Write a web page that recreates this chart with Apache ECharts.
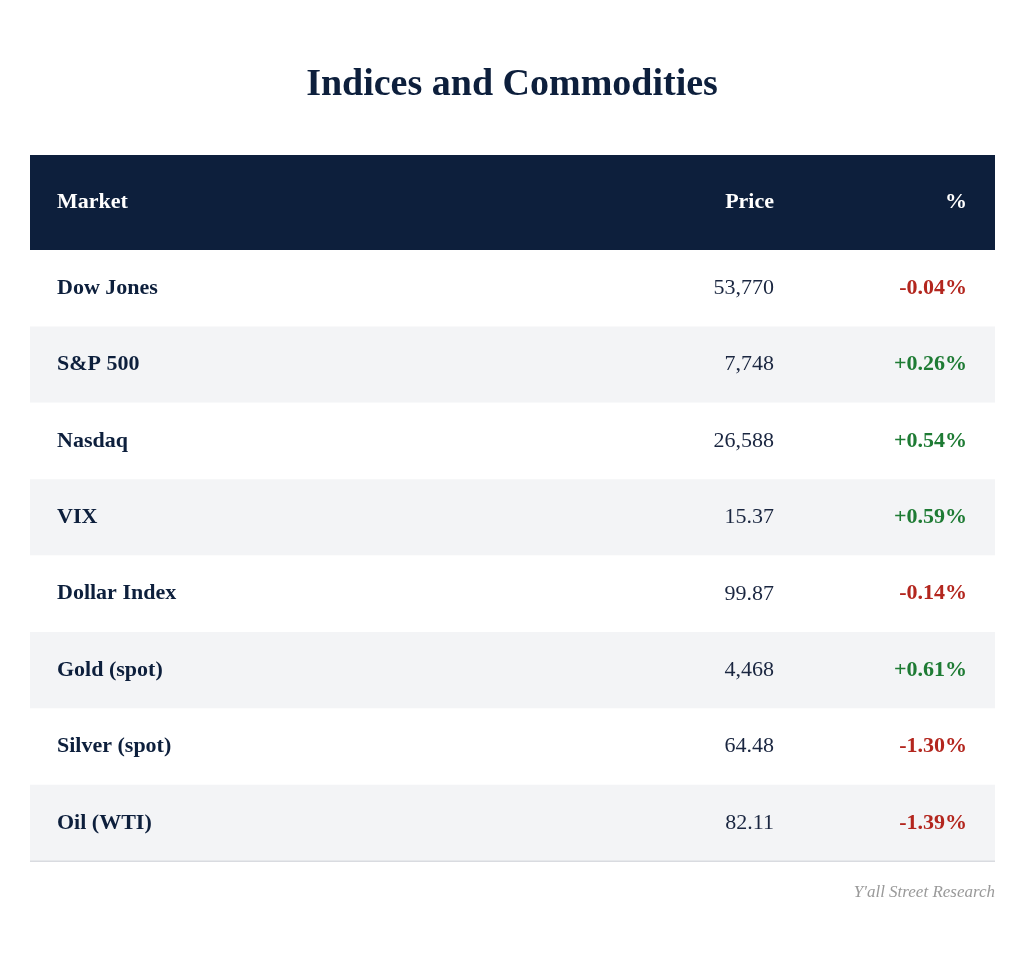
<!DOCTYPE html>
<html><head><meta charset="utf-8">
<script src="https://cdn.jsdelivr.net/npm/echarts@6/dist/echarts.min.js"></script>
<style>html,body{margin:0;padding:0;background:#fff}#c{width:1024px;height:957px}</style>
</head><body><div id="c"></div>
<script>
const headers = ["Market", "Price", "%"];
const markets = ["Dow Jones","S&P 500","Nasdaq","VIX","Dollar Index","Gold (spot)","Silver (spot)","Oil (WTI)"];
const prices = ["53,770","7,748","26,588","15.37","99.87","4,468","64.48","82.11"];
const changes = ["-0.04%","+0.26%","+0.54%","+0.59%","-0.14%","+0.61%","-1.30%","-1.39%"];

const chart = echarts.init(document.getElementById('c'));
const font = "'Liberation Serif','DejaVu Serif',serif";
const navy = '#0d1f3c';
const L = 30, R = 995, headTop = 155, headH = 95, rowH = 76.4;
const els = [];
els.push({type:'text', left:'center', top:66, style:{text:'Indices and Commodities', font:`bold 38px ${font}`, fill:navy}});
els.push({type:'rect', shape:{x:L,y:headTop,width:R-L,height:headH}, style:{fill:navy}});
const hy = headTop + headH/2;
els.push({type:'text', x:57, y:hy, style:{text:headers[0], font:`bold 22px ${font}`, fill:'#fff', textVerticalAlign:'middle'}});
els.push({type:'text', x:774, y:hy, style:{text:headers[1], font:`bold 22px ${font}`, fill:'#fff', textAlign:'right', textVerticalAlign:'middle'}});
els.push({type:'text', x:967, y:hy, style:{text:headers[2], font:`bold 22px ${font}`, fill:'#fff', textAlign:'right', textVerticalAlign:'middle'}});
markets.forEach((m,i)=>{
  const y0 = headTop + headH + i*rowH;
  els.push({type:'rect', shape:{x:L,y:y0,width:R-L,height:rowH}, style:{fill: i%2 ? '#f3f4f6' : '#ffffff'}});
  const cy = y0 + rowH/2;
  els.push({type:'text', x:57, y:cy, style:{text:m, font:`bold 22px ${font}`, fill:navy, textVerticalAlign:'middle'}});
  els.push({type:'text', x:774, y:cy, style:{text:prices[i], font:`22px ${font}`, fill:'#1a2640', textAlign:'right', textVerticalAlign:'middle'}});
  const neg = changes[i].startsWith('-');
  els.push({type:'text', x:967, y:cy, style:{text:changes[i], font:`bold 22px ${font}`, fill: neg ? '#b3261e' : '#1e7b34', textAlign:'right', textVerticalAlign:'middle'}});
});
const bottom = headTop + headH + markets.length*rowH;
els.push({type:'line', shape:{x1:L,y1:bottom,x2:R,y2:bottom}, style:{stroke:'#d9dbe0', lineWidth:1.5}});
els.push({type:'text', x:R, y:bottom+31, style:{text:"Y'all Street Research", font:`italic 17px ${font}`, fill:'#9a9a9a', textAlign:'right', textVerticalAlign:'middle'}});
chart.setOption({animation:false, graphic:{elements:els}});
</script></body></html>
